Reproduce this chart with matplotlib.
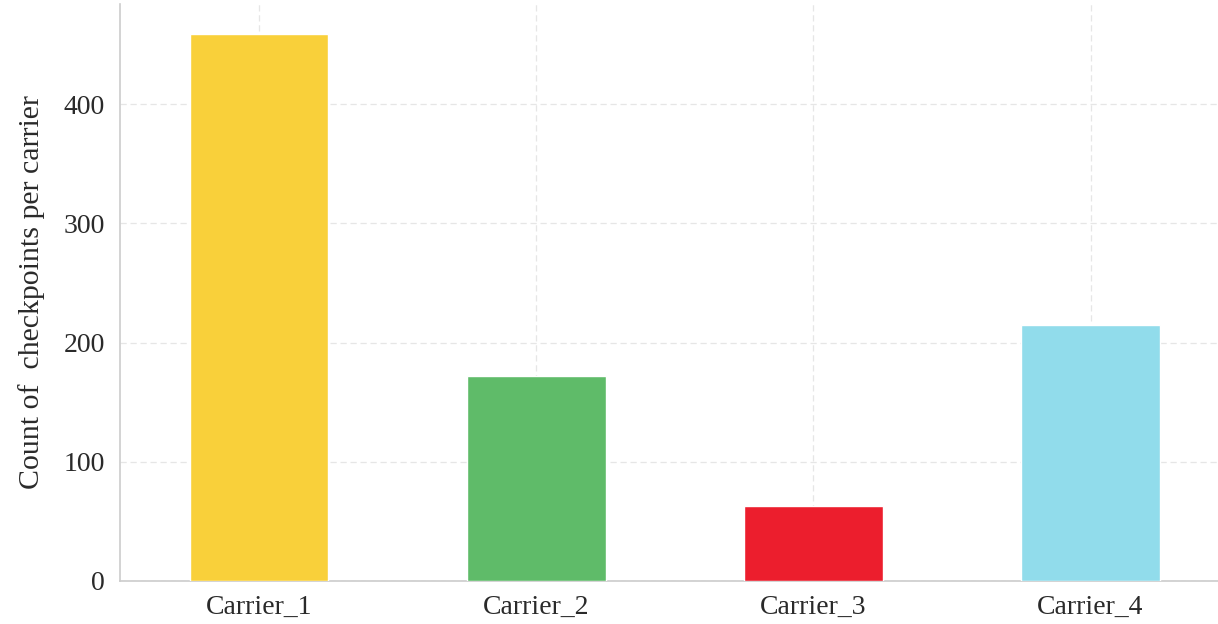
import matplotlib
matplotlib.use("Agg")
import matplotlib.pyplot as plt

carriers = ["Carrier_1", "Carrier_2", "Carrier_3", "Carrier_4"]
counts = [459, 172, 63, 215]
colors = ["#F9D03A", "#5FBB69", "#EC1E2D", "#91DCEB"]

plt.rcParams['font.family'] = ['Liberation Serif', 'DejaVu Serif']

fig = plt.figure(figsize=(12.18, 6.24), dpi=100)
ax = fig.add_axes([120/1218, 43/624, 1 - 120/1218, (581-4)/624])
x = range(len(carriers))
ax.bar(x, counts, width=0.5, color=colors, edgecolor="white", linewidth=1, zorder=3)
ax.set_xticks(list(x))
ax.set_xticklabels(carriers)
ax.set_xlim(-0.502, 3.46)
ax.set_ylim(0, 484)
ax.set_yticks([0, 100, 200, 300, 400])
ax.set_ylabel("Count of  checkpoints per carrier", fontsize=21.5, color="#2a2a2a", labelpad=13)
ax.tick_params(axis='both', labelsize=20, colors="#2a2a2a", length=0)
ax.tick_params(axis='x', pad=10)
ax.tick_params(axis='y', pad=11)
ax.grid(True, linestyle=(0, (5, 3)), color="#e6e6e6", linewidth=0.9, zorder=0)
for s in ["top", "right"]:
    ax.spines[s].set_visible(False)
for s in ["left", "bottom"]:
    ax.spines[s].set_color("#cccccc")
    ax.spines[s].set_linewidth(1.2)
fig.savefig("out.png", dpi=100)
